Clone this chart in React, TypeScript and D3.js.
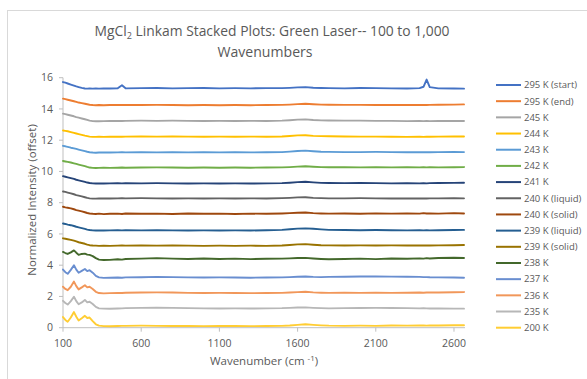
import React from "react";
import * as d3 from "d3";

const wavenumbers = [100,115,130,150,170,185,200,220,240,255,270,290,310,330,360,400,450,477,500,600,700,800,900,1000,1100,1200,1300,1400,1500,1550,1600,1650,1700,1750,1800,1900,2000,2100,2200,2300,2380,2405,2425,2445,2500,2600,2664];

const seriesNames = ["295 K (start)","295 K (end)","245 K","244 K","243 K","242 K","241 K","240 K (liquid)","240 K (solid)","239 K (liquid)","239 K (solid)","238 K","237 K","236 K","235 K","200 K"];

const seriesColors = ["#4472C4","#ED7D31","#A5A5A5","#FFC000","#5B9BD5","#70AD47","#264478","#636363","#9E480E","#255E91","#997300","#43682B","#698ED0","#F1975A","#B7B7B7","#FFCD33"];

const s295start = [15.72,15.68,15.63,15.56,15.49,15.44,15.40,15.35,15.31,15.30,15.31,15.30,15.31,15.30,15.32,15.31,15.32,15.52,15.32,15.33,15.34,15.32,15.33,15.34,15.32,15.33,15.32,15.33,15.33,15.35,15.38,15.40,15.36,15.34,15.33,15.32,15.34,15.33,15.32,15.31,15.33,15.42,15.88,15.40,15.32,15.31,15.30];
const s295end = [14.66,14.63,14.59,14.54,14.49,14.45,14.41,14.37,14.33,14.30,14.27,14.25,14.24,14.25,14.24,14.25,14.26,14.25,14.26,14.25,14.26,14.25,14.24,14.25,14.24,14.25,14.24,14.25,14.26,14.28,14.31,14.33,14.30,14.28,14.27,14.26,14.26,14.25,14.25,14.26,14.25,14.26,14.25,14.26,14.27,14.28,14.29];
const s245 = [13.70,13.67,13.63,13.58,13.53,13.48,13.44,13.39,13.34,13.30,13.25,13.22,13.21,13.21,13.22,13.23,13.24,13.23,13.24,13.25,13.24,13.25,13.24,13.23,13.24,13.23,13.24,13.23,13.25,13.28,13.32,13.33,13.29,13.27,13.26,13.25,13.25,13.24,13.24,13.22,13.23,13.22,13.23,13.22,13.23,13.24,13.23];
const s244 = [12.62,12.60,12.57,12.52,12.47,12.43,12.39,12.34,12.29,12.26,12.23,12.21,12.21,12.22,12.21,12.22,12.23,12.22,12.23,12.24,12.23,12.24,12.23,12.22,12.23,12.22,12.23,12.22,12.24,12.27,12.31,12.32,12.28,12.26,12.25,12.24,12.23,12.23,12.22,12.21,12.22,12.21,12.22,12.22,12.23,12.24,12.24];
const s243 = [11.64,11.61,11.57,11.52,11.48,11.44,11.40,11.35,11.30,11.26,11.23,11.21,11.20,11.21,11.22,11.21,11.22,11.23,11.22,11.23,11.22,11.23,11.22,11.23,11.22,11.23,11.22,11.23,11.24,11.27,11.31,11.33,11.29,11.26,11.25,11.24,11.24,11.25,11.24,11.23,11.24,11.23,11.24,11.23,11.24,11.25,11.24];
const s242 = [10.67,10.64,10.61,10.57,10.52,10.48,10.44,10.39,10.34,10.29,10.25,10.23,10.22,10.23,10.24,10.23,10.24,10.25,10.24,10.25,10.26,10.25,10.24,10.25,10.24,10.25,10.24,10.25,10.26,10.28,10.31,10.33,10.30,10.28,10.27,10.27,10.26,10.27,10.26,10.27,10.26,10.27,10.26,10.27,10.26,10.27,10.28];
const s241 = [9.70,9.66,9.62,9.57,9.52,9.47,9.43,9.38,9.33,9.29,9.26,9.24,9.23,9.24,9.23,9.24,9.25,9.24,9.25,9.24,9.25,9.24,9.23,9.24,9.23,9.24,9.23,9.24,9.25,9.28,9.32,9.34,9.30,9.27,9.26,9.25,9.26,9.25,9.24,9.25,9.24,9.25,9.24,9.25,9.26,9.27,9.28];
const s240liq = [8.72,8.69,8.65,8.60,8.54,8.49,8.45,8.40,8.35,8.31,8.28,8.26,8.26,8.27,8.28,8.27,8.28,8.29,8.28,8.29,8.28,8.27,8.28,8.27,8.28,8.27,8.28,8.27,8.29,8.31,8.34,8.35,8.31,8.29,8.28,8.28,8.29,8.28,8.27,8.28,8.27,8.28,8.27,8.28,8.28,8.29,8.28];
const s240sol = [7.74,7.70,7.68,7.64,7.58,7.53,7.49,7.44,7.39,7.34,7.31,7.29,7.28,7.30,7.27,7.29,7.30,7.28,7.31,7.29,7.30,7.28,7.31,7.29,7.30,7.28,7.30,7.29,7.31,7.33,7.36,7.37,7.33,7.31,7.30,7.31,7.29,7.32,7.30,7.32,7.30,7.33,7.31,7.32,7.30,7.33,7.31];
const s239liq = [6.67,6.64,6.60,6.56,6.51,6.46,6.42,6.37,6.32,6.28,6.25,6.23,6.22,6.23,6.22,6.23,6.24,6.23,6.24,6.23,6.24,6.23,6.22,6.23,6.22,6.23,6.22,6.24,6.26,6.30,6.34,6.36,6.33,6.29,6.26,6.25,6.24,6.25,6.24,6.23,6.24,6.23,6.24,6.23,6.24,6.25,6.26];
const s239sol = [5.72,5.69,5.66,5.62,5.57,5.52,5.47,5.42,5.37,5.32,5.28,5.26,5.25,5.24,5.25,5.24,5.25,5.26,5.25,5.26,5.25,5.26,5.25,5.24,5.25,5.24,5.25,5.24,5.26,5.29,5.33,5.35,5.31,5.28,5.27,5.26,5.27,5.26,5.27,5.26,5.27,5.26,5.27,5.26,5.27,5.28,5.29];
const s238 = [4.85,4.78,4.72,4.82,4.95,4.80,4.66,4.72,4.74,4.68,4.66,4.58,4.45,4.36,4.33,4.34,4.38,4.36,4.40,4.42,4.45,4.42,4.40,4.43,4.40,4.42,4.39,4.41,4.42,4.44,4.46,4.47,4.43,4.40,4.38,4.40,4.42,4.39,4.43,4.41,4.44,4.42,4.45,4.43,4.46,4.48,4.46];
const s237 = [3.72,3.55,3.45,3.70,4.00,3.72,3.52,3.64,3.76,3.62,3.68,3.52,3.32,3.22,3.19,3.20,3.21,3.20,3.22,3.23,3.25,3.24,3.22,3.21,3.22,3.21,3.20,3.21,3.22,3.24,3.26,3.28,3.25,3.24,3.25,3.26,3.28,3.28,3.27,3.26,3.25,3.24,3.24,3.23,3.22,3.21,3.20];
const s236 = [2.62,2.48,2.40,2.62,2.95,2.66,2.45,2.58,2.72,2.58,2.62,2.48,2.30,2.22,2.20,2.21,2.23,2.22,2.24,2.25,2.26,2.25,2.23,2.22,2.23,2.22,2.21,2.22,2.23,2.25,2.28,2.30,2.26,2.24,2.23,2.24,2.23,2.24,2.23,2.24,2.25,2.24,2.25,2.26,2.25,2.27,2.28];
const s235 = [1.72,1.58,1.48,1.70,1.98,1.70,1.50,1.62,1.78,1.62,1.66,1.52,1.33,1.24,1.22,1.21,1.23,1.24,1.25,1.27,1.28,1.27,1.25,1.24,1.23,1.24,1.23,1.24,1.25,1.27,1.29,1.30,1.27,1.25,1.24,1.25,1.26,1.27,1.26,1.25,1.24,1.25,1.24,1.23,1.23,1.22,1.22];
const s200 = [0.68,0.50,0.38,0.65,1.00,0.70,0.46,0.60,0.76,0.62,0.65,0.42,0.22,0.13,0.10,0.09,0.11,0.12,0.12,0.13,0.12,0.11,0.12,0.10,0.11,0.12,0.10,0.11,0.12,0.14,0.18,0.22,0.18,0.15,0.13,0.12,0.13,0.12,0.14,0.13,0.15,0.14,0.13,0.15,0.14,0.16,0.16];

const seriesValues = [s295start,s295end,s245,s244,s243,s242,s241,s240liq,s240sol,s239liq,s239sol,s238,s237,s236,s235,s200];

const xTicks = [100,600,1100,1600,2100,2600];
const yTicks = [0,2,4,6,8,10,12,14,16];

const FONT = "'Open Sans', 'Noto Sans', sans-serif";
const TXT = "#595959";
const AX = "#BFBFBF";

export default function App() {
  const x = d3.scaleLinear().domain([100, 2664]).range([63, 464]);
  const y = d3.scaleLinear().domain([0, 16]).range([327.7, 77.7]);
  const line = d3.line<number>()
    .x((_, i) => x(wavenumbers[i]))
    .y((v) => y(v));

  const legendY0 = 85;
  const legendStep = 16.18;

  return (
    <svg width={587} height={379} style={{ position: "absolute", left: 0, top: 0, background: "#fff" }} fontFamily={FONT}>
      <rect x={0} y={0} width={587} height={379} fill="#fff" />
      <rect x={7.5} y={10.5} width={600} height={400} fill="#fff" stroke="#D9D9D9" strokeWidth={1} />
      <text x={272} y={36} textAnchor="middle" fontSize={14.5} fill={TXT} textLength={355} lengthAdjust="spacingAndGlyphs">
        MgCl<tspan fontSize={9.5} dy={3}>2</tspan><tspan dy={-3}> Linkam Stacked Plots: Green Laser-- 100 to 1,000</tspan>
      </text>
      <text x={265} y={57} textAnchor="middle" fontSize={14.5} fill={TXT} textLength={95} lengthAdjust="spacingAndGlyphs">Wavenumbers</text>

      {/* axes */}
      <line x1={63} x2={63} y1={77.7} y2={327.7} stroke={AX} strokeWidth={1} />
      <line x1={63} x2={465} y1={327.7} y2={327.7} stroke={AX} strokeWidth={1} />
      {yTicks.map((t) => (
        <g key={"y" + t}>
          <line x1={59} x2={63} y1={y(t)} y2={y(t)} stroke={AX} />
          <text x={53} y={y(t)} dy="0.35em" textAnchor="end" fontSize={10.5} fill={TXT}>{t}</text>
        </g>
      ))}
      {xTicks.map((t) => (
        <g key={"x" + t}>
          <line x1={x(t)} x2={x(t)} y1={327.7} y2={331.7} stroke={AX} />
          <text x={x(t)} y={347} textAnchor="middle" fontSize={10.5} fill={TXT}>{t}</text>
        </g>
      ))}
      <text x={264} y={365} textAnchor="middle" fontSize={11.5} fill={TXT}>
        Wavenumber (cm <tspan fontSize={8} dy={-4}>-1</tspan><tspan dy={4}>)</tspan>
      </text>
      <text transform="translate(36,200) rotate(-90)" textAnchor="middle" fontSize={11.5} fill={TXT}>Normalized Intensity (offset)</text>

      {/* series */}
      {seriesValues.map((vals, i) => (
        <path key={seriesNames[i]} d={line(vals) || ""} fill="none" stroke={seriesColors[i]} strokeWidth={1.9} strokeLinejoin="round" strokeLinecap="round" />
      ))}

      {/* legend */}
      {seriesNames.map((name, i) => (
        <g key={"lg" + name}>
          <line x1={496} x2={521} y1={legendY0 + i * legendStep} y2={legendY0 + i * legendStep} stroke={seriesColors[i]} strokeWidth={2} />
          <text x={524} y={legendY0 + i * legendStep} dy="0.35em" fontSize={9.5} fill={TXT}>{name}</text>
        </g>
      ))}
    </svg>
  );
}
